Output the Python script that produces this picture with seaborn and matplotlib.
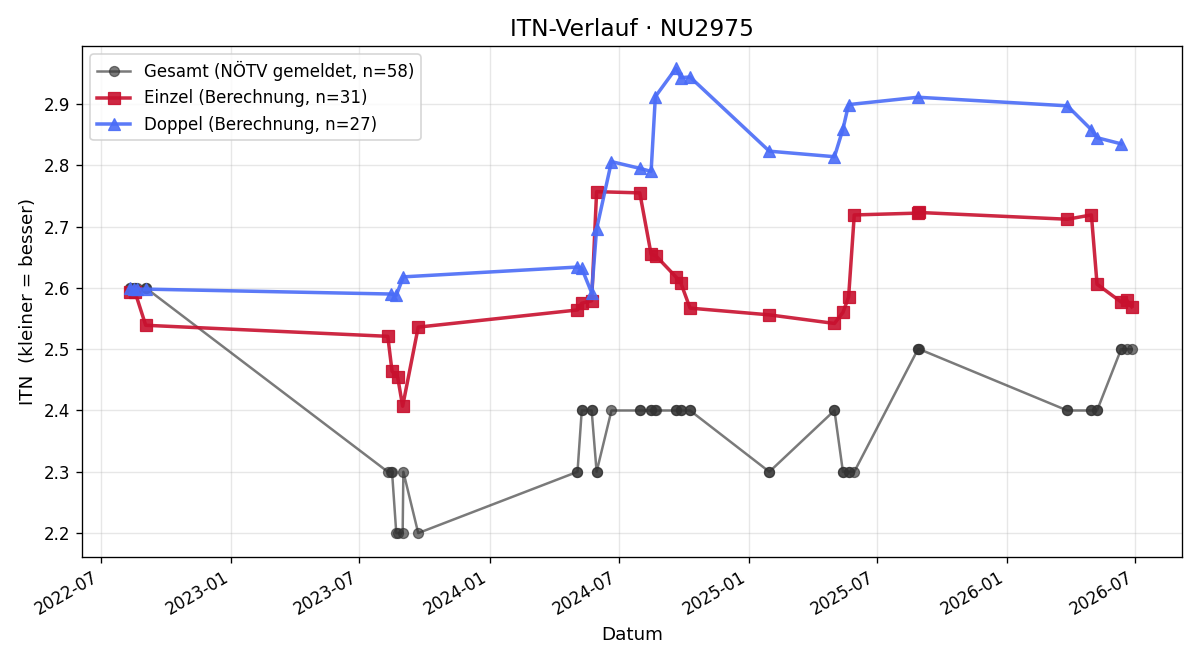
import matplotlib
matplotlib.use("Agg")
import matplotlib.pyplot as plt
import matplotlib.dates as mdates
import seaborn as sns
import pandas as pd
import numpy as np

# ---- data ----
einzel_dates = ["2022-08-11", "2022-08-18", "2022-09-02", "2023-08-10", "2023-08-16",
                "2023-08-24", "2023-08-31", "2023-09-22", "2024-05-04", "2024-05-10",
                "2024-05-24", "2024-05-31", "2024-07-31", "2024-08-16", "2024-08-23",
                "2024-09-20", "2024-09-27", "2024-10-10", "2025-01-30", "2025-05-02",
                "2025-05-14", "2025-05-22", "2025-05-30", "2025-08-28", "2025-08-30",
                "2026-03-27", "2026-04-30", "2026-05-08", "2026-06-11", "2026-06-19",
                "2026-06-26"]
einzel_itn = [2.593, 2.593, 2.539, 2.521, 2.464, 2.454, 2.407, 2.536, 2.564, 2.575,
              2.579, 2.757, 2.755, 2.655, 2.652, 2.618, 2.608, 2.567, 2.556, 2.542,
              2.560, 2.585, 2.719, 2.722, 2.723, 2.712, 2.719, 2.606, 2.577, 2.580,
              2.569]
gesamt_at_einzel = [2.6, 2.6, 2.6, 2.3, 2.3, 2.2, 2.2, 2.2, 2.3, 2.4,
                    2.4, 2.3, 2.4, 2.4, 2.4, 2.4, 2.4, 2.4, 2.3, 2.4,
                    2.3, 2.3, 2.3, 2.5, 2.5, 2.4, 2.4, 2.4, 2.5, 2.5,
                    2.5]

doppel_dates = ["2022-08-11", "2022-08-16", "2022-08-20", "2022-09-02", "2023-08-14",
                "2023-08-22", "2023-09-01", "2024-05-04", "2024-05-10", "2024-05-24",
                "2024-05-31", "2024-06-21", "2024-07-31", "2024-08-16", "2024-08-22",
                "2024-09-20", "2024-09-27", "2024-10-10", "2025-01-30", "2025-05-02",
                "2025-05-14", "2025-05-22", "2025-08-28", "2026-03-27", "2026-04-30",
                "2026-05-08", "2026-06-11"]
doppel_itn = [2.600, 2.598, 2.598, 2.598, 2.590, 2.588, 2.618, 2.634, 2.632, 2.592,
              2.696, 2.806, 2.795, 2.790, 2.912, 2.958, 2.943, 2.944, 2.823, 2.814,
              2.859, 2.899, 2.911, 2.897, 2.858, 2.845, 2.835]
gesamt_at_doppel = [2.6, 2.6, 2.6, 2.6, 2.3, 2.2, 2.3, 2.3, 2.4, 2.4,
                    2.3, 2.4, 2.4, 2.4, 2.4, 2.4, 2.4, 2.4, 2.3, 2.4,
                    2.3, 2.3, 2.5, 2.4, 2.4, 2.4, 2.5]

# ---- tables ----
einzel = pd.DataFrame({"Datum": pd.to_datetime(einzel_dates), "ITN": einzel_itn})
doppel = pd.DataFrame({"Datum": pd.to_datetime(doppel_dates), "ITN": doppel_itn})
gesamt = pd.concat([
    pd.DataFrame({"Datum": pd.to_datetime(einzel_dates), "ITN": gesamt_at_einzel}),
    pd.DataFrame({"Datum": pd.to_datetime(doppel_dates), "ITN": gesamt_at_doppel}),
]).sort_values("Datum", kind="stable").reset_index(drop=True)

fig, ax = plt.subplots(figsize=(10, 5.5), dpi=120)

sns.lineplot(data=gesamt, x="Datum", y="ITN", ax=ax, estimator=None, sort=False,
             color="#333333", alpha=0.65, marker="o", markersize=6, linewidth=1.5,
             markeredgecolor="#333333",
             label=f"Gesamt (NÖTV gemeldet, n={len(gesamt)})")
sns.lineplot(data=einzel, x="Datum", y="ITN", ax=ax, estimator=None, sort=False,
             color="#c8102e", alpha=0.9, marker="s", markersize=7, linewidth=2.1,
             markeredgecolor="#c8102e",
             label=f"Einzel (Berechnung, n={len(einzel)})")
sns.lineplot(data=doppel, x="Datum", y="ITN", ax=ax, estimator=None, sort=False,
             color="#4a6cf7", alpha=0.9, marker="^", markersize=7, linewidth=2.1,
             markeredgecolor="#4a6cf7",
             label=f"Doppel (Berechnung, n={len(doppel)})")

ax.set_title("ITN-Verlauf · NU2975", fontsize=14)
ax.set_xlabel("Datum", fontsize=11)
ax.set_ylabel("ITN  (kleiner = besser)", fontsize=11)
ax.set_xlim(pd.Timestamp("2022-06-04"), pd.Timestamp("2026-09-05"))
ax.set_ylim(2.161, 2.9946)
ax.grid(True, alpha=0.3)
ax.xaxis.set_major_locator(mdates.MonthLocator(bymonth=[1, 7]))
ax.xaxis.set_major_formatter(mdates.DateFormatter("%Y-%m"))
ax.legend(loc="upper left", fontsize=10)
fig.autofmt_xdate()
fig.subplots_adjust(left=82/1200, right=1182/1200, top=1-46/660, bottom=1-557/660)
fig.savefig("out.png", dpi=120)
